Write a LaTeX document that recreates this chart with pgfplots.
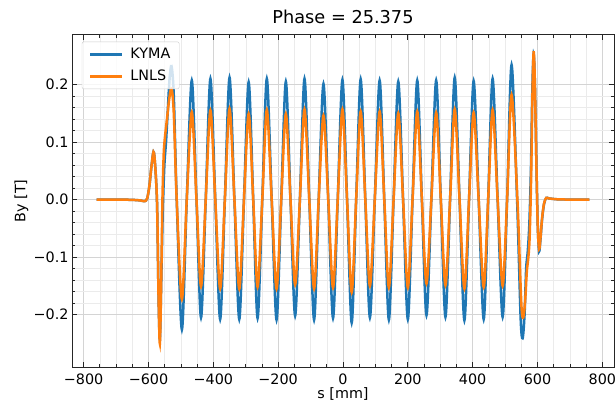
\documentclass[border=0pt]{standalone}
\usepackage{fontspec}
\setmainfont{DejaVu Sans}
\usepackage{pgfplots}
\pgfplotsset{compat=1.18}
\definecolor{kyma}{HTML}{1F77B4}
\definecolor{lnls}{HTML}{FF7F0E}
\newcommand{\tickfont}{\fontsize{14.4}{16}\selectfont}

\begin{document}
\begin{tikzpicture}[x=1bp,y=1bp]
\useasboundingbox (-72,-36) rectangle (544,367);
\begin{axis}[
    at={(0,0)}, anchor=south west,
    scale only axis,
    width=542bp, height=332bp,
    xmin=-836, xmax=836,
    ymin=-0.291, ymax=0.286,
    enlargelimits=false,
    xtick={-800,-600,-400,-200,0,200,400,600,800},
    xticklabels={−800,−600,−400,−200,0,200,400,600,800},
    ytick={-0.2,-0.1,0,0.1,0.2},
    yticklabels={−0.2,−0.1,0.0,0.1,0.2},
    minor x tick num=3,
    minor y tick num=4,
    grid=both,
    major grid style={black!17, line width=0.6bp},
    minor grid style={black!8, line width=0.5bp},
    major tick length=5bp,
    minor tick length=3bp,
    tick style={black!85, line width=0.8bp},
    axis line style={black!85, line width=1bp},
    ticklabel style={font=\tickfont},
    xticklabel style={anchor=base, yshift=-17bp},
    label style={font=\tickfont},
    xlabel={s [mm]},
    ylabel={By [T]},
    xlabel style={at={(axis description cs:0.5,-0.095)}, anchor=base},
    ylabel style={at={(axis description cs:-0.086,0.5)}, anchor=base},
    title={Phase = 25.375},
    title style={font=\fontsize{17.8}{20}\selectfont, at={(axis description cs:0.5,1.016)}, anchor=base},
    legend cell align=left,
    legend image code/.code={\draw[#1, line width=2.5bp] (0bp,0bp) -- (32bp,0bp);},
    legend style={
        at={(axis description cs:0.018,0.98)}, anchor=north west,
        draw=black!20, rounded corners=2bp,
        fill=white, fill opacity=0.8, text opacity=1,
        font=\tickfont, row sep=6bp,
        inner xsep=7bp, inner ysep=4.5bp,
        /tikz/every odd column/.append style={column sep=5bp}
    },
]
% KYMA
\addplot[kyma, line width=2.5bp, smooth] coordinates {
(-760,0) (-700,0) (-650,-0.0005) (-625,-0.0015) (-612,-0.0028) (-604,0.002)
(-597,0.025) (-590,0.062) (-583,0.081) (-574,0) (-569,-0.17) (-565,-0.243)
(-561,-0.15) (-556,-0.02) (-551,0.06) (-546,0.10) (-541,0.15) (-535,0.21)
(-529,0.232) (-522,0.18) (-513,0) (-497,-0.226) (-482,0) (-466.5,0.207) (-452,0)
(-438,-0.205) (-423.5,0) (-409,0.21) (-394,0) (-379,-0.208) (-364.5,0)
(-350,0.212) (-335,0) (-320,-0.208) (-305.5,0) (-291,0.204) (-277,0)
(-263.5,-0.206) (-249,0) (-235,0.21) (-220,0) (-205,-0.209) (-190.5,0)
(-176.3,0.205) (-162,0) (-147.7,-0.202) (-133,0) (-118.8,0.21) (-104,0)
(-89.2,-0.209) (-75,0) (-60.3,0.201) (-45.5,0) (-30.8,-0.206) (-16.3,0)
(-1.8,0.208) (12.5,0) (26.8,-0.214) (40.6,0) (54.5,0.209) (68.8,0)
(83,-0.205) (98,0) (113,0.207) (127.3,0) (141.5,-0.209) (156,0)
(170.5,0.205) (185.3,0) (200,-0.208) (214.5,0) (229,0.207) (243.3,0)
(257.5,-0.201) (272.5,0) (287.4,0.207) (301.7,0) (316,-0.204) (330.3,0)
(344.6,0.212) (359.5,0) (374.5,-0.21) (388.8,0) (403,0.206) (418.5,0)
(434,-0.208) (447.8,0) (461.5,0.21) (477,0) (492.4,-0.204) (506.2,0)
(520,0.234) (537,0) (548,-0.206) (554,-0.241)
(560,-0.2) (565,-0.12) (570,-0.09) (575,-0.04) (580,0.06) (584,0.19)
(588,0.253) (592,0.2) (597,0.05) (601,-0.05) (605,-0.09) (609,-0.07)
(614,-0.035) (620,-0.008) (627,0.003) (635,0.002) (660,0.0005) (700,0) (760,0)
};
\addlegendentry{KYMA}
% LNLS
\addplot[lnls, line width=2.5bp, smooth] coordinates {
(-760,0) (-700,0) (-650,-0.0005) (-625,-0.0015) (-612,-0.0028) (-604,0.002)
(-597,0.025) (-590,0.062) (-583,0.081) (-574,0) (-569,-0.17) (-565,-0.25)
(-561,-0.15) (-557,0.0) (-553,0.08) (-549,0.11) (-543,0.14) (-536,0.175)
(-529,0.193) (-522,0.15) (-513,0) (-497,-0.173) (-482,0) (-466.5,0.152) (-452,0)
(-438,-0.151) (-423.5,0) (-409,0.155) (-394,0) (-379,-0.155) (-364.5,0)
(-350,0.158) (-335,0) (-320,-0.155) (-305.5,0) (-291,0.149) (-277,0)
(-263.5,-0.152) (-249,0) (-235,0.156) (-220,0) (-205,-0.155) (-190.5,0)
(-176.3,0.149) (-162,0) (-147.7,-0.148) (-133,0) (-118.8,0.157) (-104,0)
(-89.2,-0.155) (-75,0) (-60.3,0.146) (-45.5,0) (-30.8,-0.153) (-16.3,0)
(-1.8,0.157) (12.5,0) (26.8,-0.161) (40.6,0) (54.5,0.153) (68.8,0)
(83,-0.15) (98,0) (113,0.153) (127.3,0) (141.5,-0.153) (156,0)
(170.5,0.15) (185.3,0) (200,-0.153) (214.5,0) (229,0.153) (243.3,0)
(257.5,-0.146) (272.5,0) (287.4,0.151) (301.7,0) (316,-0.149) (330.3,0)
(344.6,0.157) (359.5,0) (374.5,-0.155) (388.8,0) (403,0.151) (418.5,0)
(434,-0.152) (447.8,0) (461.5,0.156) (477,0) (492.4,-0.15) (506.2,0)
(520,0.182) (538,0) (550,-0.18) (556,-0.205)
(562,-0.175) (567,-0.125) (571,-0.105) (575,-0.075) (578,-0.02) (581,0.06)
(584,0.17) (588,0.256) (592,0.2) (597,0.05) (601,-0.05) (605,-0.086)
(609,-0.068) (614,-0.033) (620,-0.007) (627,0.003) (635,0.002) (660,0.0005) (700,0) (760,0)
};
\addlegendentry{LNLS}
\end{axis}
\end{tikzpicture}
\end{document}
